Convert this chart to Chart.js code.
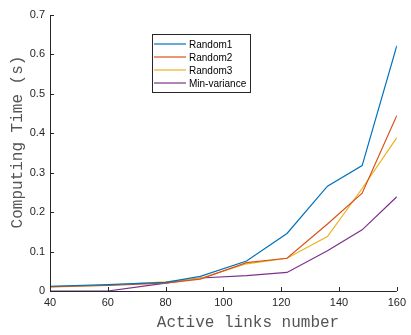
<!DOCTYPE html>
<html>
<head>
<meta charset="utf-8">
<script src="https://cdn.jsdelivr.net/npm/chart.js@4"></script>
<style>
  html, body { margin: 0; padding: 0; background: #fff; }
  #wrap { width: 411px; height: 335px; }
</style>
</head>
<body>
<div id="wrap"><canvas id="chart" width="411" height="335"></canvas></div>
<script>
// data
const links = [40, 60, 80, 92, 108, 122, 136, 148, 160];
const random1 = [0.012, 0.016, 0.022, 0.037, 0.076, 0.146, 0.266, 0.318, 0.622];
const random2 = [0.011, 0.014, 0.020, 0.030, 0.072, 0.083, 0.170, 0.248, 0.445];
const random3 = [0.010, 0.015, 0.023, 0.032, 0.069, 0.083, 0.138, 0.260, 0.389];
const minVar  = [0.000, 0.000, 0.020, 0.033, 0.039, 0.047, 0.102, 0.155, 0.239];
const seriesNames = ['Random1', 'Random2', 'Random3', 'Min-variance'];
const seriesColors = ['#0072BD', '#D95319', '#EDB120', '#7E2F8E'];
const xTicks = [40, 60, 80, 100, 120, 140, 160];
const yTicks = [0, 0.1, 0.2, 0.3, 0.4, 0.5, 0.6, 0.7];
const xTitle = 'Active links number';
const yTitle = 'Computing Time (s)';

const allSeries = [random1, random2, random3, minVar];
const datasets = allSeries.map((vals, i) => ({
  label: seriesNames[i],
  data: links.map((x, j) => ({ x: x, y: vals[j] })),
  borderColor: seriesColors[i],
  borderWidth: 1.2,
  pointRadius: 0,
  tension: 0,
  fill: false
}));

// matlab-ish axes: lines on left/bottom, ticks pointing inward, titles, legend
const axesPlugin = {
  id: 'matlabAxes',
  afterDatasetsDraw(chart) {
    const { ctx, chartArea: a, scales: { x, y } } = chart;
    ctx.save();
    ctx.strokeStyle = '#262626';
    ctx.lineWidth = 1;
    ctx.beginPath();
    ctx.moveTo(a.left + 0.5, a.top);
    ctx.lineTo(a.left + 0.5, a.bottom + 0.5);
    ctx.lineTo(a.right, a.bottom + 0.5);
    xTicks.forEach(v => {
      const px = Math.round(x.getPixelForValue(v)) + 0.5;
      ctx.moveTo(px, a.bottom);
      ctx.lineTo(px, a.bottom - 4);
    });
    yTicks.forEach(v => {
      const py = Math.round(y.getPixelForValue(v)) + 0.5;
      ctx.moveTo(a.left, py);
      ctx.lineTo(a.left + 4, py);
    });
    ctx.stroke();

    // axis titles (courier, like the original)
    ctx.fillStyle = '#555';
    ctx.font = '16px "Liberation Mono", "Courier New", monospace';
    ctx.textAlign = 'center';
    ctx.textBaseline = 'middle';
    ctx.fillText(xTitle, 248, 323);
    ctx.save();
    ctx.translate(18, 142);
    ctx.rotate(-Math.PI / 2);
    ctx.fillText(yTitle, 0, 0);
    ctx.restore();

    // legend box
    const lx = 152, ly = 34, lw = 98, lh = 58;
    ctx.fillStyle = '#fff';
    ctx.fillRect(lx, ly, lw, lh);
    ctx.strokeStyle = '#262626';
    ctx.strokeRect(lx + 0.5, ly + 0.5, lw, lh);
    ctx.font = '10px "Liberation Sans", Arial, sans-serif';
    ctx.textAlign = 'left';
    ctx.textBaseline = 'middle';
    ctx.fillStyle = '#000';
    seriesNames.forEach((name, i) => {
      const yy = ly + 10 + i * 13;
      ctx.strokeStyle = seriesColors[i];
      ctx.lineWidth = 1.2;
      ctx.beginPath();
      ctx.moveTo(lx + 2, yy);
      ctx.lineTo(lx + 34, yy);
      ctx.stroke();
      ctx.fillText(name, lx + 37, yy + 1);
    });
    ctx.restore();
  }
};

new Chart(document.getElementById('chart').getContext('2d'), {
  type: 'line',
  data: { datasets: datasets },
  options: {
    responsive: false,
    animation: false,
    layout: { padding: { top: 15, right: 9, left: 0, bottom: 0 } },
    plugins: { legend: { display: false }, tooltip: { enabled: false } },
    scales: {
      x: {
        type: 'linear',
        min: 40, max: 160,
        afterBuildTicks: s => { s.ticks = xTicks.map(v => ({ value: v })); },
        afterFit: s => { s.height = 44; },
        grid: { display: false, drawTicks: false, tickLength: 0 },
        border: { display: false },
        ticks: {
          color: '#262626',
          font: { family: '"Liberation Sans", Arial, sans-serif', size: 11 },
          padding: 5,
          maxRotation: 0
        }
      },
      y: {
        min: 0, max: 0.7,
        afterBuildTicks: s => { s.ticks = yTicks.map(v => ({ value: v })); },
        afterFit: s => { s.width = 50; },
        grid: { display: false, drawTicks: false, tickLength: 0 },
        border: { display: false },
        ticks: {
          color: '#262626',
          font: { family: '"Liberation Sans", Arial, sans-serif', size: 11 },
          padding: 5,
          callback: v => String(Math.round(v * 10) / 10)
        }
      }
    }
  },
  plugins: [axesPlugin]
});
</script>
</body>
</html>
